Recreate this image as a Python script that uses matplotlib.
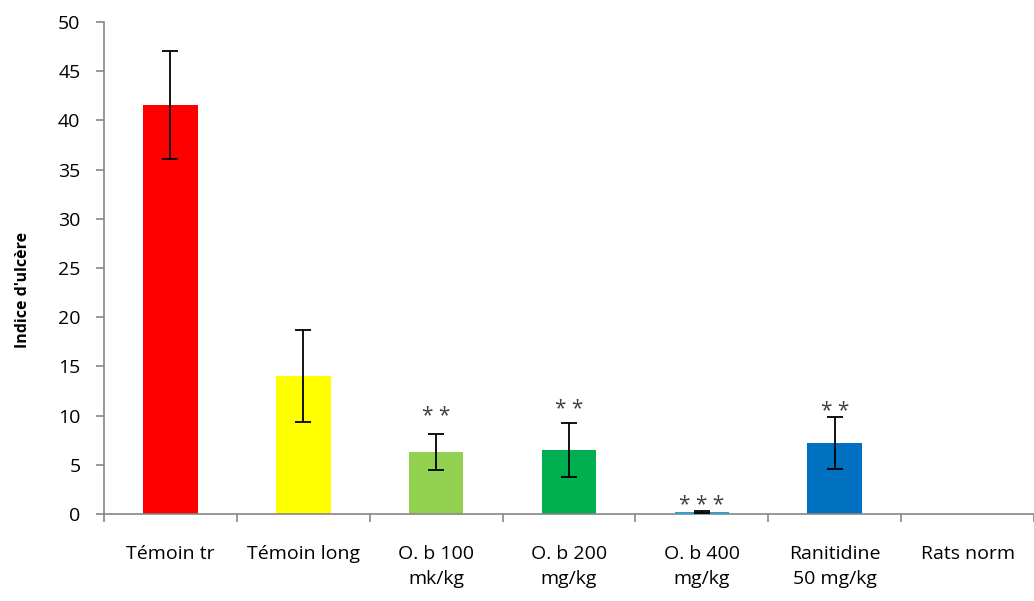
import numpy as np
import matplotlib.pyplot as plt

categories = ["Témoin tr", "Témoin long", "O. b 100\nmk/kg", "O. b 200\nmg/kg",
              "O. b 400\nmg/kg", "Ranitidine\n50 mg/kg", "Rats norm"]
values = [41.6, 14.0, 6.3, 6.5, 0.25, 7.2, 0.0]
errors = [5.5, 4.7, 1.8, 2.7, 0.1, 2.65, 0.0]
stars = ["", "", "**", "**", "***", "**", ""]
star_y = [0, 0, 9.3, 10.1, 0.3, 9.9, 0]
colors = ["#FF0000", "#FFFF00", "#92D050", "#00B050", "#00B0F0", "#0070C0", "#FFFFFF"]

plt.rcParams['font.family'] = ['Open Sans', 'DejaVu Sans']

fig = plt.figure(figsize=(10.34, 6.01), dpi=100)
ax = fig.add_axes([104 / 1034, 87 / 601, 930 / 1034, 492 / 601])

x = np.arange(len(categories))
ax.bar(x, values, width=0.41, color=colors, zorder=2)
for i in range(len(x)):
    if errors[i] > 0:
        ax.errorbar(x[i], values[i], yerr=errors[i], fmt='none', ecolor='black',
                    elinewidth=1.3, capsize=6, capthick=1.3, zorder=3)
    if stars[i]:
        ax.text(x[i], star_y[i], " ".join(stars[i]), ha='center', va='baseline',
                fontsize=15, color='#404040')

ax.set_xlim(-0.5, len(categories) - 0.5)
ax.set_ylim(0, 50)
ax.set_yticks(np.arange(0, 51, 5))
ax.set_xticks(x)
ax.set_xticklabels(categories, fontsize=14, linespacing=1.5)
ax.set_xticks(np.arange(-0.5, len(categories), 1), minor=True)
ax.tick_params(axis='x', which='major', length=0, pad=22)
ax.tick_params(axis='x', which='minor', length=6, color='#868686', width=1.2)
ax.tick_params(axis='y', length=6, color='#868686', width=1.2, labelsize=14, pad=11)

for side in ['top', 'right']:
    ax.spines[side].set_visible(False)
for side in ['left', 'bottom']:
    ax.spines[side].set_color('#868686')
    ax.spines[side].set_linewidth(1.2)

ax.set_ylabel("Indice d'ulcère", fontsize=11.5, fontweight='bold')
ax.yaxis.set_label_coords(-0.079, 0.455)

fig.savefig('out.png', dpi=100)
